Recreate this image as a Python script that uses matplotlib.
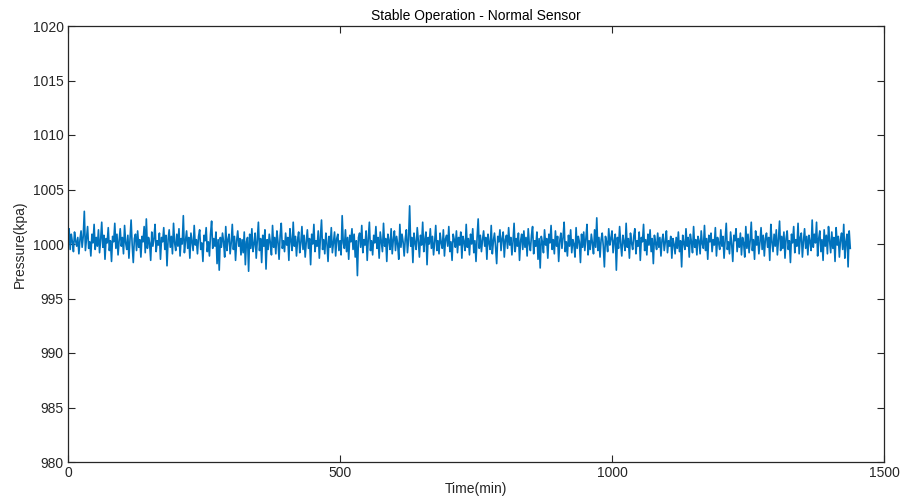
import matplotlib
matplotlib.use("Agg")
import matplotlib.pyplot as plt
import numpy as np

plt.rcParams['font.family'] = ['Liberation Sans', 'DejaVu Sans']

# Sampling step (minutes) and pressure baseline (kPa)
time_step_min = 2
baseline_kpa = 1000.0

# Pressure deviations from baseline (kPa), one row per 40 min
pressure_offset = [
    0.8, 1.4, -0.5, 0.9, 0.2, -0.7, 1.1, 0.3, -0.2, 0.6, -0.9, 0.4, 1.2, -0.3, 0.7, 3.0, -0.6, 0.5, 1.6, -0.4,
    0.2, -1.1, 0.9, 0.1, 1.8, -0.5, 0.6, -0.2, 1.3, -0.8, 0.4, 2.0, -0.3, 0.8, -1.4, 0.5, 0.1, 1.5, -0.6, 0.3,
    -1.6, 0.7, 0.2, 1.9, -0.4, 0.9, -1.0, 0.3, 1.4, -0.2, 0.6, -0.9, 1.7, 0.1, -0.5, 0.8, -1.3, 0.4, 2.2, -0.1,
    -1.7, 0.5, 0.9, -0.6, 1.2, -0.3, 0.4, -1.2, 0.7, 0.2, 1.6, -0.8, 2.3, -0.4, 0.6, 0.1, -1.5, 1.1, -0.2, 0.5,
    1.8, -0.7, 0.3, -0.1, 1.0, -1.4, 0.6, 0.2, 1.5, -0.5, 0.8, -2.0, 0.4, 1.3, -0.3, 0.7, -0.9, 1.9, 0.1, -0.6,
    0.9, -0.2, 1.4, -1.1, 0.5, 0.0, 2.6, -0.8, 0.3, 1.2, -0.4, 0.6, -1.3, 1.0, 0.2, -0.6, 1.7, -0.1, 0.4, -0.9,
    0.7, 1.3, -0.5, 0.1, -1.6, 0.8, 0.3, 1.5, -0.7, 0.2, -1.1, 0.9, 2.1, -0.4, 0.5, -0.2, 1.1, -1.8, 0.4, -2.4,
    0.6, -0.3, 1.0, 0.2, -1.2, 1.6, -0.6, 0.4, 0.9, -0.9, 0.1, 1.8, -0.5, 0.7, -1.5, 0.3, 1.2, -0.2, 0.5, -1.0,
    0.4, -0.8, 1.1, -1.9, 0.2, 0.6, -2.5, 0.9, -0.4, 1.4, -0.7, 0.0, 1.0, -1.3, 0.3, 2.0, -0.6, 0.5, -1.7, 0.8,
    -0.2, 1.3, -2.3, 0.4, -0.5, 0.9, 0.1, -1.0, 1.7, -0.3, 0.6, -0.9, 1.2, 0.2, -1.4, 0.8, 1.9, -0.4, 0.3, -0.7,
    1.0, -0.1, 0.6, -1.5, 1.4, 0.3, -0.6, 2.0, -0.2, 0.7, -1.1, 0.4, 1.1, -0.8, 0.1, 1.6, -0.5, 0.8, -1.2, 0.2,
    1.3, -0.4, 0.5, -1.9, 0.9, 0.0, 1.8, -0.7, 0.3, -0.2, 1.2, -1.3, 0.6, 2.2, -0.5, 0.4, -0.9, 1.0, 0.1, -1.6,
    0.7, -0.3, 1.5, -0.8, 0.2, 1.1, -1.1, 0.5, 0.9, -0.6, 0.3, -1.0, 2.6, 0.1, -0.4, 1.3, -0.7, 0.6, -1.4, 0.8,
    0.2, 1.4, -0.5, 0.9, -1.2, 0.3, -2.9, 0.6, 1.0, -0.3, 1.7, -0.8, 0.4, -0.1, 1.2, -1.5, 0.5, 2.0, -0.6, 0.3,
    -1.0, 0.8, 0.1, 1.6, -0.4, 0.6, -1.3, 1.1, 0.2, -0.7, 1.9, -0.2, 0.5, -1.6, 0.9, 0.3, -0.5, 1.4, -0.9, 0.4,
    1.2, -0.6, 0.7, 0.0, -1.4, 1.8, -0.3, 0.9, 0.2, -1.1, 0.5, 1.3, -0.8, 0.4, 3.5, -0.2, 0.6, -1.7, 1.0, 0.1,
    -0.5, 1.5, 0.3, -1.2, 0.8, -0.1, 2.0, -0.7, 0.4, 1.1, -1.9, 0.6, 0.0, 1.4, -0.4, 0.7, -1.0, 0.2, 1.7, -0.6,
    0.3, -0.9, 1.0, 0.1, -0.4, 1.3, -1.1, 0.5, 0.8, -0.2, 1.6, -0.7, 0.2, -1.5, 0.9, 0.4, -0.3, 1.2, -0.8, 0.6,
    -0.1, 1.1, -1.3, 0.7, 0.2, -0.6, 1.8, -0.3, 0.5, -1.0, 0.9, 0.0, 1.4, -0.8, 0.3, -1.6, 0.6, 2.3, -0.4, 0.8,
    -0.7, 0.4, 1.2, -0.2, 0.6, -1.4, 0.9, 0.1, -0.5, 1.7, -0.9, 0.3, 1.0, -0.3, -1.8, 0.7, 0.2, 1.3, -0.6, 0.5,
    1.1, -1.2, 0.4, 0.8, -0.4, 1.5, -0.1, 0.6, -1.0, 0.2, 1.9, -0.7, 0.5, -0.2, 1.0, -1.5, 0.3, 0.9, -0.5, 1.2,
    -0.3, 0.6, -1.1, 1.4, 0.0, -0.6, 0.8, 1.6, -0.9, 0.3, -0.2, 1.1, -1.4, 0.5, -2.2, 0.7, 0.2, -0.8, 1.3, -0.1,
    0.5, -1.3, 0.9, 0.1, 1.7, -0.5, 0.4, -0.9, 1.2, -0.2, 0.7, -1.6, 0.3, 1.0, -0.4, 0.6, 2.0, -0.7, 0.2, -1.1,
    0.8, -0.2, 1.3, -0.8, 0.4, 0.0, -1.2, 1.5, -0.4, 0.7, 0.2, -1.7, 0.9, -0.3, 1.1, -0.6, 0.5, 1.8, -1.0, 0.3,
    -0.5, 0.9, 0.1, -0.9, 1.3, -0.3, 2.4, -0.6, 0.6, -1.2, 0.4, 1.0, -0.2, -2.1, 0.7, 0.2, -0.7, 1.4, -0.1, 0.5,
    1.2, -0.8, 0.3, 0.9, -2.4, 0.6, -0.4, 1.6, 0.0, -1.1, 0.8, 0.2, -0.6, 1.9, -0.3, 0.5, -1.3, 1.0, 0.1, -0.5,
    0.7, 1.4, -0.9, 0.3, -0.2, 1.1, -1.5, 0.6, 0.2, 1.8, -0.6, 0.4, -1.0, 0.9, -0.1, 1.3, -0.7, 0.5, -1.8, 0.8,
    0.1, -0.5, 1.0, -0.3, 0.6, -1.1, 0.4, 0.9, -0.6, 0.2, 1.2, -0.8, 0.3, -0.2, 0.7, -1.3, 0.5, 0.0, -0.9, 0.6,
    -0.4, 1.1, -0.7, 0.3, -2.1, 0.8, 0.1, -0.5, 1.4, -0.2, 0.6, -1.2, 0.9, 0.2, -0.8, 1.6, -0.3, 0.4, -1.0, 0.7,
    0.3, -0.9, 1.2, 0.0, -0.4, 1.7, -0.6, 0.5, -1.4, 0.8, 0.2, 1.0, -0.7, 0.4, -0.1, 1.5, -1.1, 0.6, 0.1, -0.5,
    1.3, -0.2, 0.7, -1.3, 0.4, 1.9, -0.5, 0.2, -0.9, 1.1, 0.0, -1.6, 0.8, 0.3, 1.4, -0.7, 0.5, -0.3, 1.0, -1.0,
    0.6, 0.1, -1.2, 1.6, -0.4, 0.9, -0.8, 0.3, 2.0, -0.6, 0.4, -1.4, 1.2, -0.1, 0.7, -0.9, 0.2, 1.5, -0.5, 0.8,
    -1.1, 0.5, 1.0, -0.3, 0.6, -1.5, 1.8, 0.2, -0.7, 0.9, -0.2, 1.3, -1.0, 0.4, 2.1, -0.6, 0.7, -0.4, 1.1, -1.3,
    0.5, 1.2, -0.5, 0.3, -1.7, 0.9, 0.1, 1.6, -0.8, 0.4, -0.2, 1.9, -0.9, 0.6, 1.0, -1.2, 0.3, 1.4, -0.4, 0.7,
    -1.0, 0.8, 0.2, -0.6, 2.2, -0.3, 0.9, 0.1, 2.0, -1.1, 0.5, 1.2, -0.7, 0.4, -1.5, 1.3, -0.2, 0.8, -0.9, 1.6,
    0.3, -0.8, 1.1, -0.4, 0.6, -1.6, 1.5, -0.1, 0.7, -1.2, 0.4, 1.0, -0.5, 1.8, -1.3, 0.2, 0.9, -2.1, 1.2, -0.4,
]

x_ticks = [0, 500, 1000, 1500]
y_ticks = [980, 985, 990, 995, 1000, 1005, 1010, 1015, 1020]

time_min = np.arange(len(pressure_offset)) * time_step_min
pressure = baseline_kpa + np.array(pressure_offset)

fig = plt.figure(figsize=(9.10, 5.04), dpi=100)
ax = fig.add_axes([68/910, 42/504, 816/910, 436/504])
ax.plot(time_min, pressure, color='#0072BD', linewidth=1.2)

ax.set_xlim(0, 1500)
ax.set_ylim(980, 1020)
ax.set_xticks(x_ticks)
ax.set_yticks(y_ticks)
ax.tick_params(direction='in', top=True, right=True, length=5, width=0.8,
               labelsize=10, colors='#262626', pad=3)
for s in ax.spines.values():
    s.set_color('#262626')
    s.set_linewidth(0.9)

ax.set_title('Stable Operation - Normal Sensor', fontsize=10, color='black', pad=4)
ax.set_xlabel('Time(min)', fontsize=10, color='#262626', labelpad=1)
ax.set_ylabel('Pressure(kpa)', fontsize=10, color='#262626', labelpad=4)

fig.savefig('out.png', dpi=100)
